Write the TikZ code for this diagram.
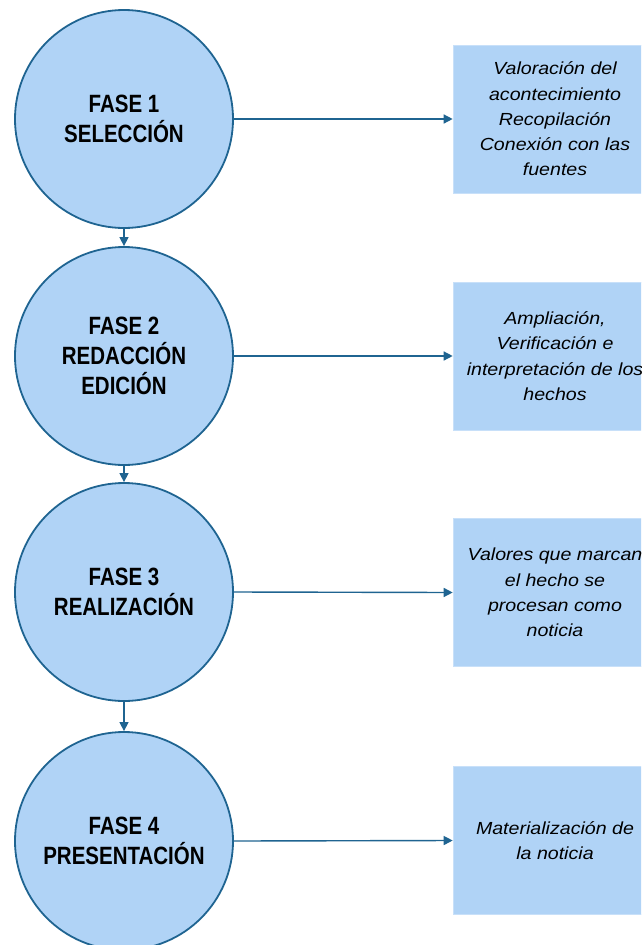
\documentclass[tikz,border=0pt]{standalone}
\usepackage{fontspec}
\setmainfont{Liberation Sans}
\newfontfamily\circfont[FakeStretch=0.82]{Liberation Sans}
\newfontfamily\boxfont[FakeStretch=1.12]{Liberation Sans}
\usetikzlibrary{arrows.meta}
\definecolor{linec}{RGB}{31,100,145}
\definecolor{fillc}{RGB}{176,211,246}
\tikzset{
  phase/.style={circle, draw=linec, line width=1.8pt, fill=fillc, minimum size=218pt, inner sep=0pt,
    align=center, font=\circfont\bfseries\fontsize{25}{30}\selectfont},
  infobox/.style={rectangle, fill=fillc, draw=fillc!70!white, line width=0.6pt, minimum width=204pt, minimum height=148pt,
    align=center, inner sep=0pt, font=\boxfont\itshape\fontsize{17.5}{25.3}\selectfont},
  conn/.style={draw=linec, line width=1.4pt, -{Triangle[length=9pt,width=9pt]}}
}
\begin{document}
\begin{tikzpicture}[x=1pt,y=-1pt]
\useasboundingbox (0,0) rectangle (641,945);
\clip (0,0) rectangle (641,945);
\node[phase] (c1) at (124,119) {FASE 1\\SELECCIÓN};
\node[phase] (c2) at (124,356) {FASE 2\\REDACCIÓN\\EDICIÓN};
\node[phase] (c3) at (124,592) {FASE 3\\REALIZACIÓN};
\node[phase] (c4) at (124,841) {FASE 4\\PRESENTACIÓN};
\node[infobox] (b1) at (555,119) {Valoración del\\acontecimiento\\Recopilación\\Conexión con las\\fuentes};
\node[infobox] (b2) at (555,356) {Ampliación,\\Verificación e\\interpretación de los\\hechos};
\node[infobox] (b3) at (555,592.5) {Valores que marcan\\el hecho se\\procesan como\\noticia};
\node[infobox] (b4) at (555,840.5) {Materialización de\\la noticia};
\draw[conn] (c1.south) -- (c2.north);
\draw[conn] (c2.south) -- (c3.north);
\draw[conn] (c3.south) -- (c4.north);
\draw[conn] (c1.east) -- (b1.west);
\draw[conn] (c2.east) -- (b2.west);
\draw[conn] (c3.east) -- (b3.west);
\draw[conn] (c4.east) -- (b4.west);
\end{tikzpicture}
\end{document}
